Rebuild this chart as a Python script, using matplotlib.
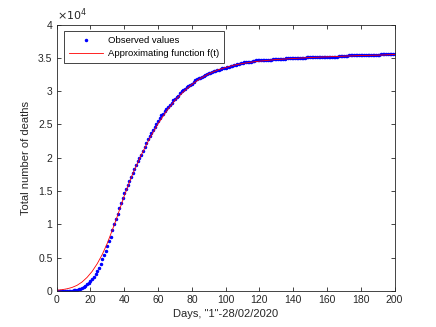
import matplotlib
matplotlib.use("Agg")
import matplotlib.pyplot as plt
from matplotlib.ticker import FuncFormatter, MultipleLocator

# Observed cumulative deaths, day 1..200
observed = [
    7, 10, 12, 17, 21, 29, 34, 52, 79, 107, 148, 197, 233, 366, 463, 631, 827, 1016,
    1266, 1441, 1809, 2158, 2503, 2978, 3405, 4032, 4825, 5476, 6077, 6820, 7503, 8165,
    9134, 10023, 10779, 11591, 12428,
    13155, 13915, 14681, 15362, 15887, 16523, 17127, 17669, 18279, 18849, 19468, 19899,
    20465, 21067, 21645, 22170, 22745, 23227, 23660, 24114, 24648, 25085, 25549, 25969,
    26384, 26644, 26977, 27359, 27682, 27967,
    28236, 28710, 28884, 29079, 29315, 29684, 29958, 30201, 30395, 30560, 30739, 30911,
    31106, 31368, 31610, 31763, 31908, 32007, 32169, 32330, 32486, 32616, 32735, 32785,
    32877, 32955, 33072, 33142, 33229, 33340, 33415,
    33475, 33530, 33601, 33689, 33774, 33846, 33899, 33964, 34043, 34114, 34167, 34223,
    34301, 34345, 34371, 34405, 34448, 34514, 34561, 34610, 34634, 34657, 34675, 34644,
    34678, 34708, 34716, 34738, 34744, 34767,
    34788, 34818, 34833, 34854, 34861, 34869, 34899, 34914, 34926, 34938, 34945, 34954,
    34967, 34984, 34997, 35017, 35028, 35042, 35045, 35058, 35073, 35082, 35092, 35097,
    35102, 35107, 35112, 35123, 35129, 35132, 35141,
    35146, 35154, 35166, 35171, 35181, 35187, 35190, 35203, 35205, 35209, 35215, 35225,
    35231, 35392, 35396, 35400, 35405, 35412, 35418, 35427, 35430, 35437, 35441, 35445,
    35458, 35463, 35472, 35473, 35477, 35483, 35491,
    35497, 35507, 35518, 35534, 35541, 35553, 35563, 35577, 35587, 35597,
]
days = list(range(1, len(observed) + 1))

# Approximating function f(t), sampled
fit_days = [0, 3, 6, 9, 12, 15, 18, 21, 24, 27, 30, 33, 36, 40, 45, 50, 55, 60, 65, 70,
            75, 80, 85, 90, 95, 100, 105, 110, 115, 120, 130, 140, 150, 160, 170, 180,
            190, 200]
fit_vals = [120, 200, 330, 530, 850, 1350, 2050, 2950, 4100, 5500, 7200, 9200, 11300,
            14300, 17600, 20400, 22900, 25100, 27000, 28600, 29900, 31000, 31900, 32600,
            33150, 33550, 33900, 34150, 34350, 34500, 34750, 34900, 35050, 35150, 35250,
            35350, 35400, 35500]

x_ticks = list(range(0, 201, 20))

plt.rcParams['font.family'] = ['Liberation Sans', 'DejaVu Sans']
fig = plt.figure(figsize=(4.36, 3.27), dpi=100)
ax = fig.add_axes([0.13, 0.11, 0.775, 0.815])

dark = (0.15, 0.15, 0.15)
ax.plot(days, observed, linestyle='none', marker='.', color='#0000ff', markersize=3,
        label='Observed values')
ax.plot(fit_days, fit_vals, color='#ff0000', linewidth=0.6, label='Approximating function f(t)')

ax.set_xlim(0, 200)
ax.set_ylim(0, 40000)
ax.set_xticks(x_ticks)
ax.yaxis.set_major_locator(MultipleLocator(5000))
ax.yaxis.set_major_formatter(FuncFormatter(lambda v, p: f"{v/1e4:g}"))

for s in ax.spines.values():
    s.set_color(dark)
    s.set_linewidth(0.6)
ax.tick_params(direction='in', top=True, right=True, length=3, width=0.6,
               colors=dark, labelsize=7.5, labelcolor=dark, pad=3)

ax.text(0.0, 1.005, r'$\times10^{4}$', transform=ax.transAxes, fontsize=8,
        color=dark, ha='left', va='bottom')

ax.set_xlabel('Days, "1"-28/02/2020', fontsize=8, color=dark, labelpad=3)
ax.set_ylabel('Total number of deaths', fontsize=8, color=dark, labelpad=5)

leg = ax.legend(loc='upper left', bbox_to_anchor=(0.022, 0.975), fontsize=6.8,
                frameon=True, fancybox=False, edgecolor=dark, framealpha=1,
                handlelength=3.6, borderpad=0.5, labelspacing=0.45, handletextpad=0.5,
                borderaxespad=0)
leg.get_frame().set_linewidth(0.6)

fig.savefig('out.png', dpi=100)
